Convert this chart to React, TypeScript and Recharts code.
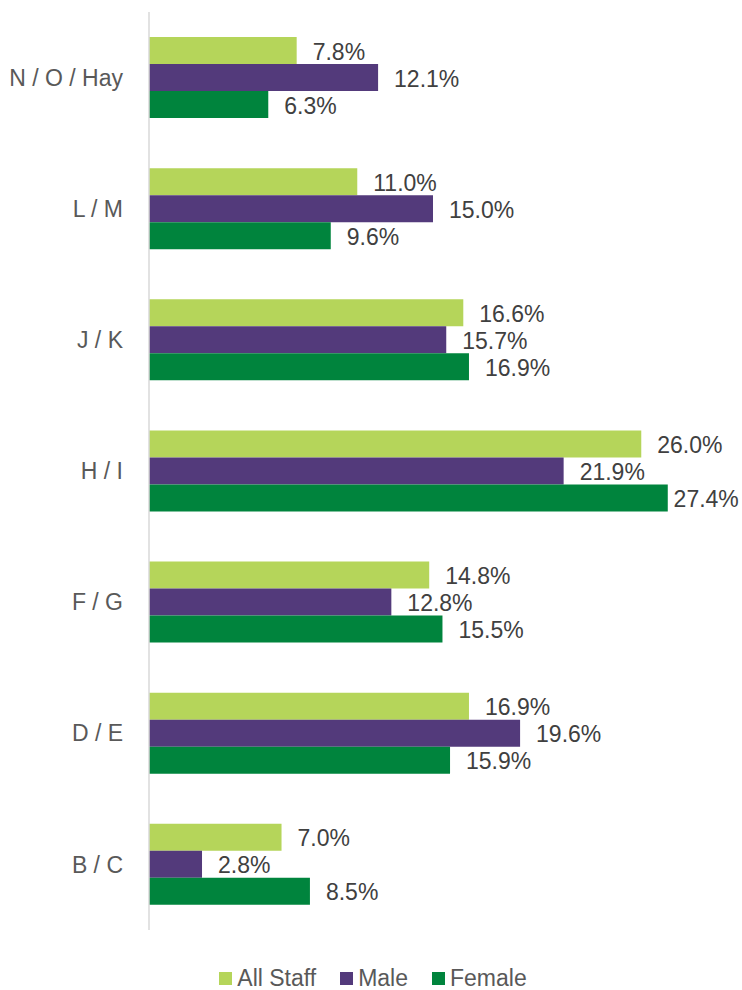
import { BarChart, Bar, XAxis, YAxis, Legend, LabelList } from 'recharts';

const grades = ['N / O / Hay', 'L / M', 'J / K', 'H / I', 'F / G', 'D / E', 'B / C'];
const allStaff = [7.8, 11.0, 16.6, 26.0, 14.8, 16.9, 7.0];
const male = [12.1, 15.0, 15.7, 21.9, 12.8, 19.6, 2.8];
const female = [6.3, 9.6, 16.9, 27.4, 15.5, 15.9, 8.5];

const SERIES = [
  { key: 'allStaff', name: 'All Staff', color: '#b5d55a' },
  { key: 'male', name: 'Male', color: '#533a7b' },
  { key: 'female', name: 'Female', color: '#00843d' },
];

const FONT = '"Liberation Sans", Arial, sans-serif';
const FS = 23;
const W = 742;

const data = grades.map((g, i) => ({
  grade: g,
  allStaff: allStaff[i],
  male: male[i],
  female: female[i],
}));

const fmt = (v: any) => `${Number(v).toFixed(1)}%`;

// value label right of the bar; pulled back in if it would run off the edge
const ValueLabel = (props: any) => {
  const { x, y, width, height, value } = props;
  const txt = fmt(value);
  const tw = txt.length * FS * 0.56;
  const tx = Math.min(x + width + 16, W - 4 - tw);
  return (
    <text x={tx} y={y + height / 2 + 3} dominantBaseline="middle" fill="#404040" fontSize={FS} fontFamily={FONT}>
      {txt}
    </text>
  );
};

const LegendBox = () => (
  <div
    style={{
      height: 60,
      display: 'flex',
      alignItems: 'flex-end',
      justifyContent: 'center',
      fontFamily: FONT,
      fontSize: FS,
      color: '#595959',
      paddingLeft: 4,
    }}
  >
    {SERIES.map((s) => (
      <div
        key={s.key}
        style={{ display: 'flex', alignItems: 'center', margin: '0 12px', lineHeight: '26px', position: 'relative', top: 1 }}
      >
        <span style={{ width: 13, height: 13, background: s.color, marginRight: 5, display: 'inline-block' }} />
        {s.name}
      </div>
    ))}
  </div>
);

export default function App() {
  return (
    <div style={{ position: 'absolute', left: 0, top: 0, background: '#fff' }}>
      <BarChart
        width={W}
        height={990}
        data={data}
        layout="vertical"
        margin={{ top: 12, right: 25, bottom: 0, left: 0 }}
        barGap={0}
        barSize={27}
      >
        <XAxis type="number" domain={[0, 30]} hide />
        <YAxis
          type="category"
          dataKey="grade"
          width={149}
          axisLine={{ stroke: '#d9d9d9', strokeWidth: 1.5 }}
          tickLine={false}
          tickMargin={20}
          tick={{ fill: '#595959', fontSize: FS, fontFamily: FONT }}
        />
        <Legend
          verticalAlign="bottom"
          content={<LegendBox />}
          wrapperStyle={{ left: 0, width: W }}
        />
        {SERIES.map((s) => (
          <Bar key={s.key} dataKey={s.key} name={s.name} fill={s.color} isAnimationActive={false}>
            <LabelList dataKey={s.key} content={<ValueLabel />} />
          </Bar>
        ))}
      </BarChart>
    </div>
  );
}
